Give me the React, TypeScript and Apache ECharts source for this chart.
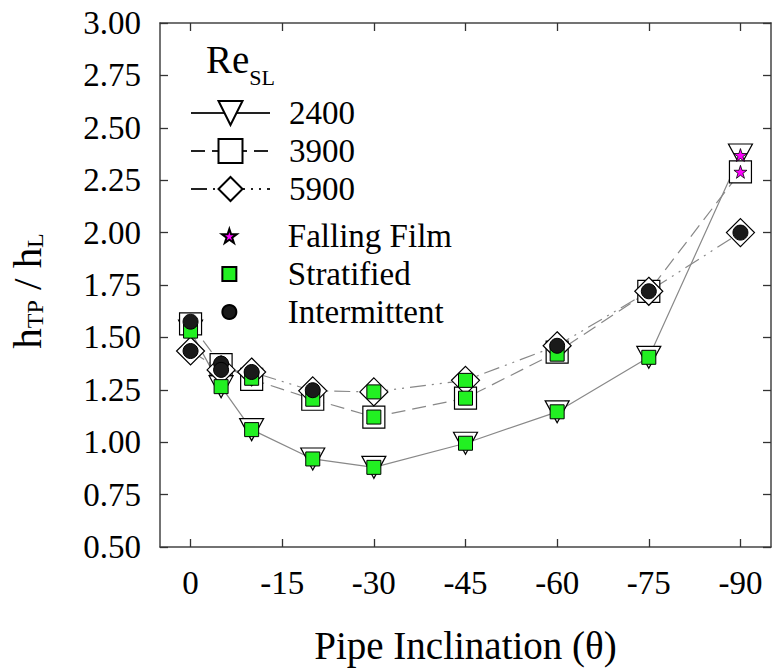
import React, { useEffect, useRef } from "react";
import * as echarts from "echarts";

// ---- data ----
const angles = [0, -5, -10, -20, -30, -45, -60, -75, -90];
const re2400 = [1.53, 1.265, 1.06, 0.92, 0.88, 0.995, 1.145, 1.405, 2.37];
const re3900 = [1.565, 1.37, 1.3, 1.205, 1.12, 1.21, 1.43, 1.72, 2.29];
const re5900 = [1.435, 1.345, 1.335, 1.245, 1.24, 1.295, 1.46, 1.72, 2.0];

const stratifiedX = [0, -5, -10, -20, -30, -45, -60, -75, -10, -20, -30, -45, -60, -30, -45];
const stratifiedY = [1.53, 1.265, 1.06, 0.92, 0.88, 0.995, 1.145, 1.405, 1.305, 1.205, 1.12, 1.21, 1.42, 1.24, 1.295];

const intermittentX = [0, 0, -5, -5, -10, -20, -60, -75, -90];
const intermittentY = [1.575, 1.435, 1.375, 1.345, 1.335, 1.248, 1.46, 1.72, 2.0];

const fallingX = [-90, -90];
const fallingY = [2.37, 2.29];

const xTicks = [0, -15, -30, -45, -60, -75, -90];

const FONT = "Liberation Serif, Times New Roman, serif";
const STAR =
  "path://M50 0 L61.23 34.55 L97.55 34.55 L68.17 55.9 L79.39 90.45 L50 69.1 L20.61 90.45 L31.83 55.9 L2.45 34.55 L38.77 34.55 Z";
const SQUARE = "path://M0 0 L10 0 L10 10 L0 10 Z";

const pairs = (xs: number[], ys: number[]) => xs.map((x, i) => [x, ys[i]]);

export default function App() {
  const ref = useRef<HTMLDivElement>(null);

  useEffect(() => {
    document.body.style.margin = "0";
    const chart = echarts.init(ref.current!, null, { renderer: "svg" });
    const axisLine = { show: true, onZero: false, lineStyle: { color: "#444", width: 1.5 } };
    const tick = { show: true, inside: true, length: 8, lineStyle: { color: "#333", width: 1.3 } };
    const lineMarkerStyle = { color: "#ffffff", borderColor: "#000", borderWidth: 1.2, opacity: 1 };

    chart.setOption({
      animation: false,
      backgroundColor: "#ffffff",
      title: {
        text: "{m|Re}{s|SL}",
        left: 206,
        top: 40,
        padding: 0,
        textStyle: {
          fontFamily: FONT,
          fontWeight: "normal",
          color: "#000",
          rich: {
            m: { fontFamily: FONT, fontWeight: "normal", fontSize: 39, lineHeight: 38, color: "#000", verticalAlign: "top" },
            s: { fontFamily: FONT, fontWeight: "normal", fontSize: 22, lineHeight: 22, color: "#000", verticalAlign: "top", padding: [26, 0, 0, 0] },
          },
        },
      },
      legend: [
        {
          data: ["2400", "3900", "5900"],
          orient: "vertical",
          left: 190,
          top: 95,
          padding: 0,
          itemWidth: 79,
          itemHeight: 30,
          itemGap: 2,
          lineStyle: { color: "#222" },
          textStyle: { fontFamily: FONT, fontSize: 33, lineHeight: 36, color: "#000", padding: [0, 0, 0, 14] },
        },
        {
          data: [
            { name: "Falling Film" },
            { name: "Stratified", icon: SQUARE },
            { name: "Intermittent" },
          ],
          orient: "vertical",
          left: 221,
          top: 218,
          padding: 0,
          itemWidth: 79,
          itemHeight: 14,
          itemGap: 2,
          textStyle: { fontFamily: FONT, fontSize: 33, lineHeight: 36, color: "#000", padding: [0, 0, 0, 14] },
        },
      ],
      grid: { left: 160, right: 1, top: 23, bottom: 125, containLabel: false, outerBoundsMode: "none" },
      xAxis: [
        {
          type: "value",
          min: -95,
          max: 5,
          inverse: true,
          position: "bottom",
          name: "Pipe Inclination (θ)",
          nameLocation: "middle",
          nameGap: 79,
          nameTextStyle: { fontFamily: FONT, fontSize: 39, color: "#000" },
          axisLine,
          axisTick: { ...tick, customValues: xTicks },
          axisLabel: { customValues: xTicks, margin: 19, fontFamily: FONT, fontSize: 33, color: "#000" },
          splitLine: { show: false },
        },
        {
          type: "value",
          min: -95,
          max: 5,
          inverse: true,
          position: "top",
          axisLine,
          axisTick: { ...tick, customValues: xTicks },
          axisLabel: { show: false },
          splitLine: { show: false },
        },
      ],
      yAxis: [
        {
          type: "value",
          min: 0.5,
          max: 3,
          interval: 0.25,
          position: "left",
          name: "{m|h}{s|TP}{m| / h}{s|L}",
          nameLocation: "middle",
          nameRotate: 90,
          nameGap: 113,
          nameTextStyle: {
            fontFamily: FONT,
            color: "#000",
            padding: [0, 12, 0, 0],
            rich: {
              m: { fontFamily: FONT, fontSize: 41, lineHeight: 42, color: "#000", verticalAlign: "bottom" },
              s: { fontFamily: FONT, fontSize: 24, lineHeight: 28, color: "#000", verticalAlign: "bottom" },
            },
          },
          axisLine,
          axisTick: tick,
          axisLabel: {
            margin: 19,
            fontFamily: FONT,
            fontSize: 33,
            color: "#000",
            formatter: (v: number) => v.toFixed(2),
          },
          splitLine: { show: false },
        },
        {
          type: "value",
          min: 0.5,
          max: 3,
          interval: 0.25,
          position: "right",
          axisLine,
          axisTick: tick,
          axisLabel: { show: false },
          splitLine: { show: false },
        },
      ],
      series: [
        {
          name: "2400",
          type: "line",
          z: 2,
          data: pairs(angles, re2400),
          symbol: "triangle",
          symbolRotate: 180,
          symbolSize: [24, 22],
          itemStyle: lineMarkerStyle,
          lineStyle: { color: "#888", width: 1.2, type: "solid" },
        },
        {
          name: "3900",
          type: "line",
          z: 2,
          data: pairs(angles, re3900),
          symbol: "rect",
          symbolSize: 22,
          itemStyle: lineMarkerStyle,
          lineStyle: { color: "#888", width: 1.2, type: [14, 7] },
        },
        {
          name: "5900",
          type: "line",
          z: 2,
          data: pairs(angles, re5900),
          symbol: "diamond",
          symbolSize: 28,
          itemStyle: lineMarkerStyle,
          lineStyle: { color: "#888", width: 1.2, type: [16, 6, 2, 6, 2, 6] },
        },
        {
          name: "Stratified",
          type: "scatter",
          z: 5,
          data: pairs(stratifiedX, stratifiedY),
          symbol: "rect",
          symbolSize: 14,
          itemStyle: { color: "#22f022", borderColor: "#000", borderWidth: 1, opacity: 1 },
        },
        {
          name: "Intermittent",
          type: "scatter",
          z: 6,
          data: pairs(intermittentX, intermittentY),
          symbol: "circle",
          symbolSize: 15,
          itemStyle: { color: "#1a1a1a", borderColor: "#000", borderWidth: 1, opacity: 1 },
        },
        {
          name: "Falling Film",
          type: "scatter",
          z: 7,
          data: pairs(fallingX, fallingY),
          symbol: STAR,
          symbolSize: 13,
          itemStyle: { color: "#ff00ff", borderColor: "#000", borderWidth: 0.8, opacity: 1 },
        },
      ],
    });
    return () => chart.dispose();
  }, []);

  return (
    <div
      ref={ref}
      style={{ position: "fixed", left: 0, top: 0, width: 772, height: 672, background: "#fff" }}
    />
  );
}
